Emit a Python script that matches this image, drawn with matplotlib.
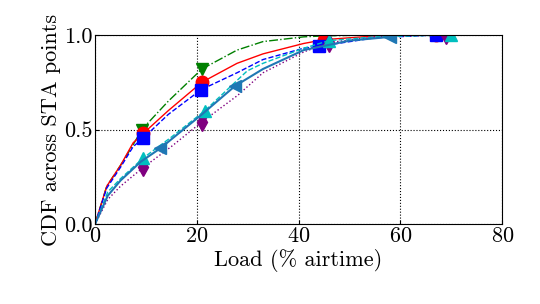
import numpy as np
import matplotlib.pyplot as plt

plt.rcParams['font.family'] = ['cmr10', 'DejaVu Serif']
plt.rcParams['mathtext.fontset'] = 'cm'
plt.rcParams['axes.formatter.use_mathtext'] = True

# load (% airtime) vs CDF, one curve per configuration
green_x = [0, 2.3, 5, 7.5, 9.2, 14.4, 21, 27.9, 33, 41, 45, 55, 68]
green_y = [0, 0.20, 0.31, 0.42, 0.50, 0.65, 0.82, 0.92, 0.965, 0.99, 0.995, 1.0, 1.0]
green_mk = [4, 6, 10, 12]

red_x = [0, 2.3, 5, 7.5, 9.5, 14.4, 21, 27.9, 33, 41, 45, 55, 67]
red_y = [0, 0.20, 0.31, 0.43, 0.48, 0.60, 0.75, 0.85, 0.90, 0.955, 0.975, 0.995, 1.0]
red_mk = [4, 6, 10, 12]

blue_x = [0, 2.3, 5, 7.5, 9.5, 14.4, 20.8, 27.9, 33, 41, 44, 55, 67]
blue_y = [0, 0.19, 0.30, 0.41, 0.455, 0.58, 0.71, 0.80, 0.87, 0.93, 0.94, 0.985, 1.0]
blue_mk = [4, 6, 10, 12]

purple_x = [0, 2.5, 5, 9.5, 15, 21, 28, 33, 41, 46, 55, 69]
purple_y = [0, 0.13, 0.20, 0.30, 0.41, 0.54, 0.68, 0.80, 0.91, 0.96, 0.99, 1.0]
purple_mk = [3, 5, 9, 11]

cyan_x = [0, 2.5, 5, 9.5, 15, 21.6, 29.9, 33, 41, 46, 55, 70]
cyan_y = [0, 0.17, 0.24, 0.35, 0.46, 0.60, 0.81, 0.85, 0.93, 0.97, 0.99, 1.0]
cyan_mk = [3, 5, 9, 11]

steel_x = [0, 2.5, 5, 9, 12.8, 21, 27.5, 33, 41, 50, 58]
steel_y = [0, 0.15, 0.23, 0.33, 0.40, 0.58, 0.73, 0.82, 0.92, 0.97, 0.99]
steel_mk = [4, 6, 10]

fig = plt.figure(figsize=(5.4, 3.04), dpi=100)
ax = fig.add_axes([0.176, 0.263, 0.754, 0.622])

ax.plot(green_x, green_y, color='green', ls='-.', lw=1, marker='v', ms=9, markevery=green_mk)
ax.plot(red_x, red_y, color='red', ls='-', lw=1, marker='o', ms=9, markevery=red_mk)
ax.plot(blue_x, blue_y, color='blue', ls='--', lw=1, marker='s', ms=9, markevery=blue_mk)
ax.plot(purple_x, purple_y, color='purple', ls=':', lw=1, marker='d', ms=9, markevery=purple_mk)
ax.plot(cyan_x, cyan_y, color='c', ls='--', lw=1, marker='^', ms=9, markevery=cyan_mk)
ax.plot(steel_x, steel_y, color='#1f77b4', ls='-', lw=1.5, marker='<', ms=9, markevery=steel_mk)

ax.set_xlim(0, 80)
ax.set_ylim(0, 1)
ax.set_xticks([0, 20, 40, 60, 80])
ax.set_yticks([0, 0.5, 1.0])
ax.set_yticklabels(['0.0', '0.5', '1.0'])
ax.grid(True, color='black', ls=':', lw=0.8)
ax.tick_params(labelsize=16, direction='in', length=3, pad=2)
ax.set_xlabel('Load (% airtime)', fontsize=16, labelpad=2)
ax.set_ylabel('CDF across STA points', fontsize=16, labelpad=2)

fig.savefig('out.png', dpi=100)
